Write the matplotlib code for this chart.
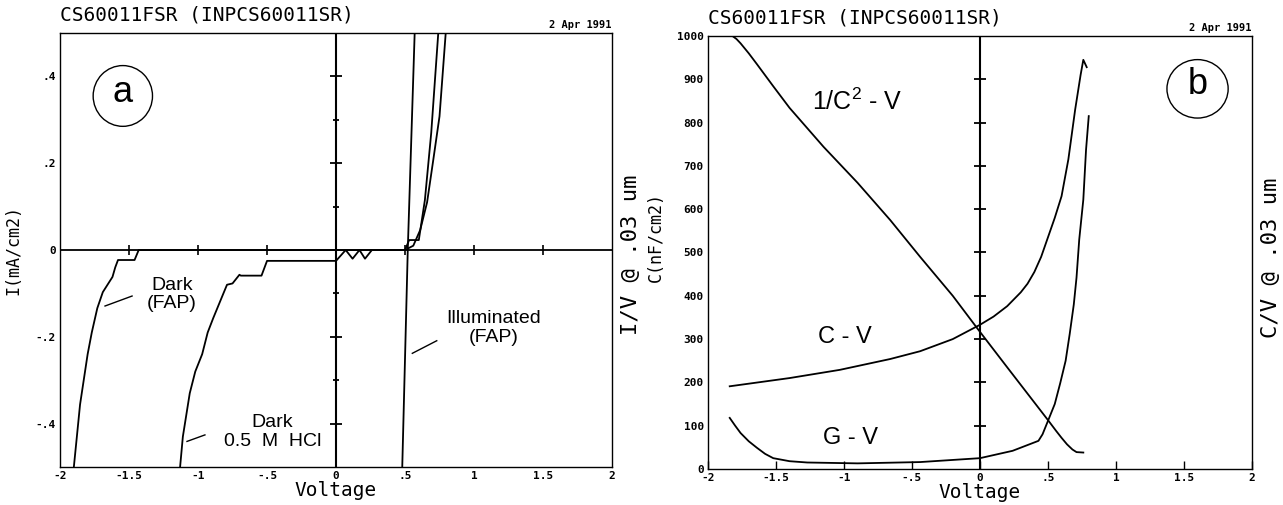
import matplotlib
matplotlib.use("Agg")
import matplotlib.pyplot as plt
from matplotlib.patches import Ellipse

# ---- panel (a): I-V, voltage (V) vs current density (mA/cm2) ----
dark_fap_v = [-1.90, -1.855, -1.80, -1.77, -1.73, -1.69, -1.62, -1.60, -1.58,
              -1.46, -1.43, 0.50, 0.56, 0.61, 0.66, 0.705, 0.75, 0.795]
dark_fap_i = [-0.50, -0.356, -0.24, -0.19, -0.134, -0.097, -0.062, -0.04, -0.023,
              -0.023, 0.0, 0.0, 0.01, 0.046, 0.11, 0.208, 0.308, 0.50]

dark_hcl_v = [-1.13, -1.11, -1.06, -1.02, -0.97, -0.93, -0.89, -0.82, -0.79, -0.75,
              -0.70, -0.69, -0.54, -0.50, 0.0, 0.07, 0.12, 0.17, 0.21, 0.26,
              0.50, 0.53, 0.60, 0.644, 0.69, 0.741]
dark_hcl_i = [-0.50, -0.43, -0.33, -0.28, -0.24, -0.19, -0.157, -0.103, -0.08, -0.077,
              -0.057, -0.059, -0.059, -0.025, -0.025, 0.0, -0.02, 0.0, -0.02, 0.0,
              0.0, 0.023, 0.023, 0.115, 0.27, 0.50]

illum_v = [0.48, 0.50, 0.52, 0.545, 0.57]
illum_i = [-0.50, -0.25, 0.0, 0.25, 0.50]

a_xticks = [-2, -1.5, -1, -0.5, 0, 0.5, 1, 1.5, 2]
a_xlabels = ["-2", "-1.5", "-1", "-.5", "0", ".5", "1", "1.5", "2"]
a_yticks = [-0.4, -0.2, 0, 0.2, 0.4]
a_ylabels = ["-.4", "-.2", "0", ".2", ".4"]
a_axis_big = [-0.4, -0.2, 0.2, 0.4]
a_axis_small = [-0.3, -0.1, 0.1, 0.3]
a_axis_x = [-1.5, -1, -0.5, 0.5, 1, 1.5]

# ---- panel (b): C-V, G-V and 1/C^2-V ----
inv_c2_v = [-1.82, -1.79, -1.76, -1.70, -1.64, -1.52, -1.40, -1.15, -0.90, -0.66,
            -0.44, -0.20, -0.02, 0.20, 0.50, 0.56, 0.60, 0.64, 0.68, 0.71, 0.76]
inv_c2 = [1000, 993, 983, 960, 935, 884, 834, 744, 661, 575,
          490, 400, 325, 235, 113, 88, 72, 57, 45, 39, 38]

cv_v = [-1.84, -1.40, -1.03, -0.66, -0.44, -0.20, 0.0, 0.10, 0.20, 0.30, 0.35,
        0.40, 0.45, 0.50, 0.55, 0.60, 0.65, 0.70, 0.74, 0.76, 0.785]
cv_c = [191, 210, 229, 254, 272, 300, 333, 352, 376, 408, 428,
        455, 490, 535, 580, 630, 715, 830, 910, 945, 928]

gv_v = [-1.84, -1.80, -1.76, -1.70, -1.64, -1.58, -1.52, -1.40, -1.27, -0.90,
        -0.44, 0.0, 0.24, 0.43, 0.46, 0.50, 0.55, 0.59, 0.63, 0.66, 0.69,
        0.71, 0.73, 0.76, 0.78, 0.80]
gv_g = [118, 100, 83, 64, 49, 35, 25, 18, 15, 13,
        16, 25, 42, 65, 80, 111, 150, 198, 250, 312, 380,
        442, 530, 622, 737, 815]

b_yticks = [0, 100, 200, 300, 400, 500, 600, 700, 800, 900, 1000]
b_ylabels = [str(t) for t in b_yticks]
b_axis_marks = [100, 200, 300, 400, 500, 600, 700, 800, 900]

PLOT_FONT = "DejaVu Sans Mono"
HAND_FONT = "Liberation Sans"
plt.rcParams["mathtext.fontset"] = "custom"
plt.rcParams["mathtext.rm"] = HAND_FONT
plt.rcParams["mathtext.it"] = HAND_FONT

fig = plt.figure(figsize=(12.83, 5.05), dpi=100)
ax_a = fig.add_axes([0.0468, 0.0752, 0.4302, 0.8594])
ax_b = fig.add_axes([0.5518, 0.0713, 0.4240, 0.8574])


def frame(ax, yticks, ylabels, ylabel, ylabel_xy, side_label):
    ax.set_xlim(-2, 2)
    ax.set_xticks(a_xticks)
    ax.set_xticklabels(a_xlabels)
    ax.set_yticks(yticks)
    ax.set_yticklabels(ylabels)
    ax.tick_params(length=0, pad=3, labelsize=8)
    for lab in ax.get_xticklabels() + ax.get_yticklabels():
        lab.set_fontfamily(PLOT_FONT)
        lab.set_fontweight("bold")
    for s in ax.spines.values():
        s.set_linewidth(1.0)
    ax.set_xlabel("Voltage", fontfamily=PLOT_FONT, fontsize=14, labelpad=0)
    ax.set_ylabel(ylabel, fontfamily=PLOT_FONT, fontsize=12)
    ax.yaxis.set_label_coords(*ylabel_xy)
    ax.text(1.035, 0.488, side_label, transform=ax.transAxes, rotation=90,
            ha="center", va="center", fontfamily=PLOT_FONT, fontsize=16)
    ax.text(0.0, 1.03, "CS60011FSR (INPCS60011SR)", transform=ax.transAxes,
            ha="left", va="baseline", fontfamily=PLOT_FONT, fontsize=14)
    ax.text(1.0, 1.008, "2 Apr 1991", transform=ax.transAxes,
            ha="right", va="bottom", fontfamily=PLOT_FONT, fontsize=7.5,
            fontweight="bold")


# panel a
frame(ax_a, a_yticks, a_ylabels, "I(mA/cm2)", (-0.068, 0.5), "I/V @ .03 um")
ax_a.set_ylim(-0.5, 0.5)
ax_a.axvline(0, color="black", lw=1.5)
ax_a.axhline(0, color="black", lw=1.3)
ax_a.plot([0] * len(a_axis_big), a_axis_big, ls="", marker="_", ms=9, mew=1.3, color="black")
ax_a.plot([0] * len(a_axis_small), a_axis_small, ls="", marker="_", ms=4, mew=1.3, color="black")
ax_a.plot(a_axis_x, [0] * len(a_axis_x), ls="", marker="|", ms=7.5, mew=1.2, color="black")

for v, i in [(dark_fap_v, dark_fap_i), (dark_hcl_v, dark_hcl_i), (illum_v, illum_i)]:
    ax_a.plot(v, i, color="black", lw=1.3)

ax_a.text(-1.19, -0.102, "Dark\n(FAP)", ha="center", va="center",
          fontfamily=HAND_FONT, fontsize=14, linespacing=1.1)
ax_a.plot([-1.674, -1.478], [-0.129, -0.106], color="black", lw=1.0)
ax_a.text(-0.46, -0.419, "Dark\n0.5  M  HCl", ha="center", va="center",
          fontfamily=HAND_FONT, fontsize=14, linespacing=1.1)
ax_a.plot([-1.08, -0.95], [-0.441, -0.426], color="black", lw=1.0)
ax_a.text(1.14, -0.18, "Illuminated\n(FAP)", ha="center", va="center",
          fontfamily=HAND_FONT, fontsize=14, linespacing=1.1)
ax_a.plot([0.553, 0.73], [-0.238, -0.209], color="black", lw=1.0)

ax_a.add_patch(Ellipse((-1.545, 0.355), 0.43, 0.14, fill=False, lw=1.0, color="black"))
ax_a.text(-1.545, 0.362, "a", ha="center", va="center",
          fontfamily=HAND_FONT, fontsize=26)

# panel b
frame(ax_b, b_yticks, b_ylabels, "C(nF/cm2)", (-0.079, 0.536), "C/V @ .03 um")
ax_b.set_ylim(0, 1000)
ax_b.tick_params(axis="x", direction="in", length=6, width=1.0)
ax_b.axvline(0, color="black", lw=1.5)
ax_b.plot([0] * len(b_axis_marks), b_axis_marks, ls="", marker="_", ms=9, mew=1.3, color="black")

for v, c in [(inv_c2_v, inv_c2), (cv_v, cv_c), (gv_v, gv_g)]:
    ax_b.plot(v, c, color="black", lw=1.3)

ax_b.text(-0.90, 848, "1/C$^\\mathregular{2}$ - V", ha="center", va="center",
          fontfamily=HAND_FONT, fontsize=18)
ax_b.text(-0.99, 305, "C - V", ha="center", va="center",
          fontfamily=HAND_FONT, fontsize=17)
ax_b.text(-0.95, 72, "G - V", ha="center", va="center",
          fontfamily=HAND_FONT, fontsize=17)

ax_b.add_patch(Ellipse((1.60, 878), 0.45, 135, fill=False, lw=1.0, color="black"))
ax_b.text(1.60, 888, "b", ha="center", va="center",
          fontfamily=HAND_FONT, fontsize=26)

fig.savefig("out.png", dpi=100)
